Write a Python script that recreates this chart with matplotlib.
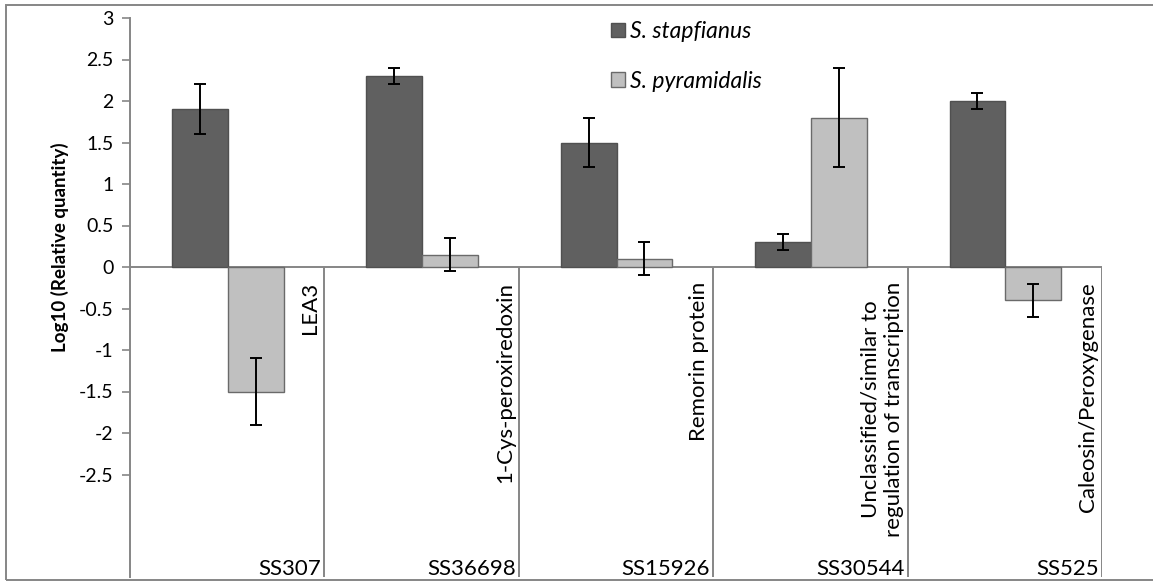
import matplotlib
matplotlib.use("Agg")
import matplotlib.pyplot as plt
import numpy as np
from matplotlib.patches import Rectangle

plt.rcParams['font.family'] = ['Lato', 'DejaVu Sans']

# datos
ids = ["SS307", "SS36698", "SS15926", "SS30544", "SS525"]
genes = ["LEA3", "1-Cys-peroxiredoxin", "Remorin protein",
         "Unclassified/similar to\nregulation of transcription", "Caleosin/Peroxygenase"]
stapf = [1.9, 2.3, 1.5, 0.3, 2.0]
stapf_err = [0.3, 0.1, 0.3, 0.1, 0.1]
pyram = [-1.5, 0.15, 0.1, 1.8, -0.4]
pyram_err = [0.4, 0.2, 0.2, 0.6, 0.2]

W, H = 1153, 582
fig = plt.figure(figsize=(W / 100, H / 100), dpi=100)
ax = fig.add_axes([130 / W, 1 - 577 / H, (1102 - 130) / W, (577 - 18) / H])

ybot = -(577 - 267) / 83.0  # parte baja para las etiquetas
ax.set_ylim(ybot, 3)
ax.set_xlim(0, 5)

x = np.arange(len(ids)) + 0.503
w = 0.287
grey = "#868686"
err_kw = dict(ecolor="black", elinewidth=1.4, capsize=4.5, capthick=1.4)
b1 = ax.bar(x - w / 2, stapf, w, yerr=stapf_err, color="#606060", edgecolor="#505050",
            linewidth=1.0, error_kw=err_kw, label="S. stapfianus", zorder=3)
b2 = ax.bar(x + w / 2, pyram, w, yerr=pyram_err, color="#c0c0c0", edgecolor="#6a6a6a",
            linewidth=1.0, error_kw=err_kw, label="S. pyramidalis", zorder=3)

# linea del cero y separadores de categorias
ax.axhline(0, color=grey, lw=1.4, zorder=2)
ax.vlines(np.arange(1, 6), ybot, 0, color=grey, lw=1.4, zorder=2)

# etiquetas de categorias
for i in range(len(ids)):
    ax.annotate(genes[i], xy=(i + 1, 0), xytext=(-4, -15), textcoords="offset pixels",
                rotation=90, ha="right", va="top", multialignment="center", fontsize=16)
    ax.annotate(ids[i], xy=(i + 1, ybot), xytext=(-3, 2), textcoords="offset pixels",
                ha="right", va="baseline", fontsize=16)

# ejes
ax.set_xticks([])
ax.set_yticks(np.arange(-2.5, 3.01, 0.5))
ax.set_yticklabels([("%g" % v) for v in np.arange(-2.5, 3.01, 0.5)])
ax.tick_params(axis="y", length=6, width=1.2, color=grey, labelsize=14, pad=6)
for s in ["top", "right", "bottom"]:
    ax.spines[s].set_visible(False)
ax.spines["left"].set_color(grey)
ax.spines["left"].set_linewidth(1.4)

fig.text(60 / W, 1 - 247 / H, "Log10 (Relative quantity)", rotation=90,
         ha="center", va="center", fontsize=13.5, fontweight="bold")

ax.legend(handles=[b1, b2], loc="upper left", bbox_to_anchor=((597 - 130) / (1102 - 130), 1.019),
          frameon=False, prop=dict(style="italic", size=16.5), handlelength=0.6,
          handleheight=0.6, handletextpad=0.25, labelspacing=1.25, borderaxespad=0.2)

# borde exterior
fig.patches.append(Rectangle((6 / W, 2 / H), 1.2, (580 - 5) / H, transform=fig.transFigure,
                             fill=False, edgecolor=grey, lw=1.4))

fig.savefig("out.png", dpi=100)
